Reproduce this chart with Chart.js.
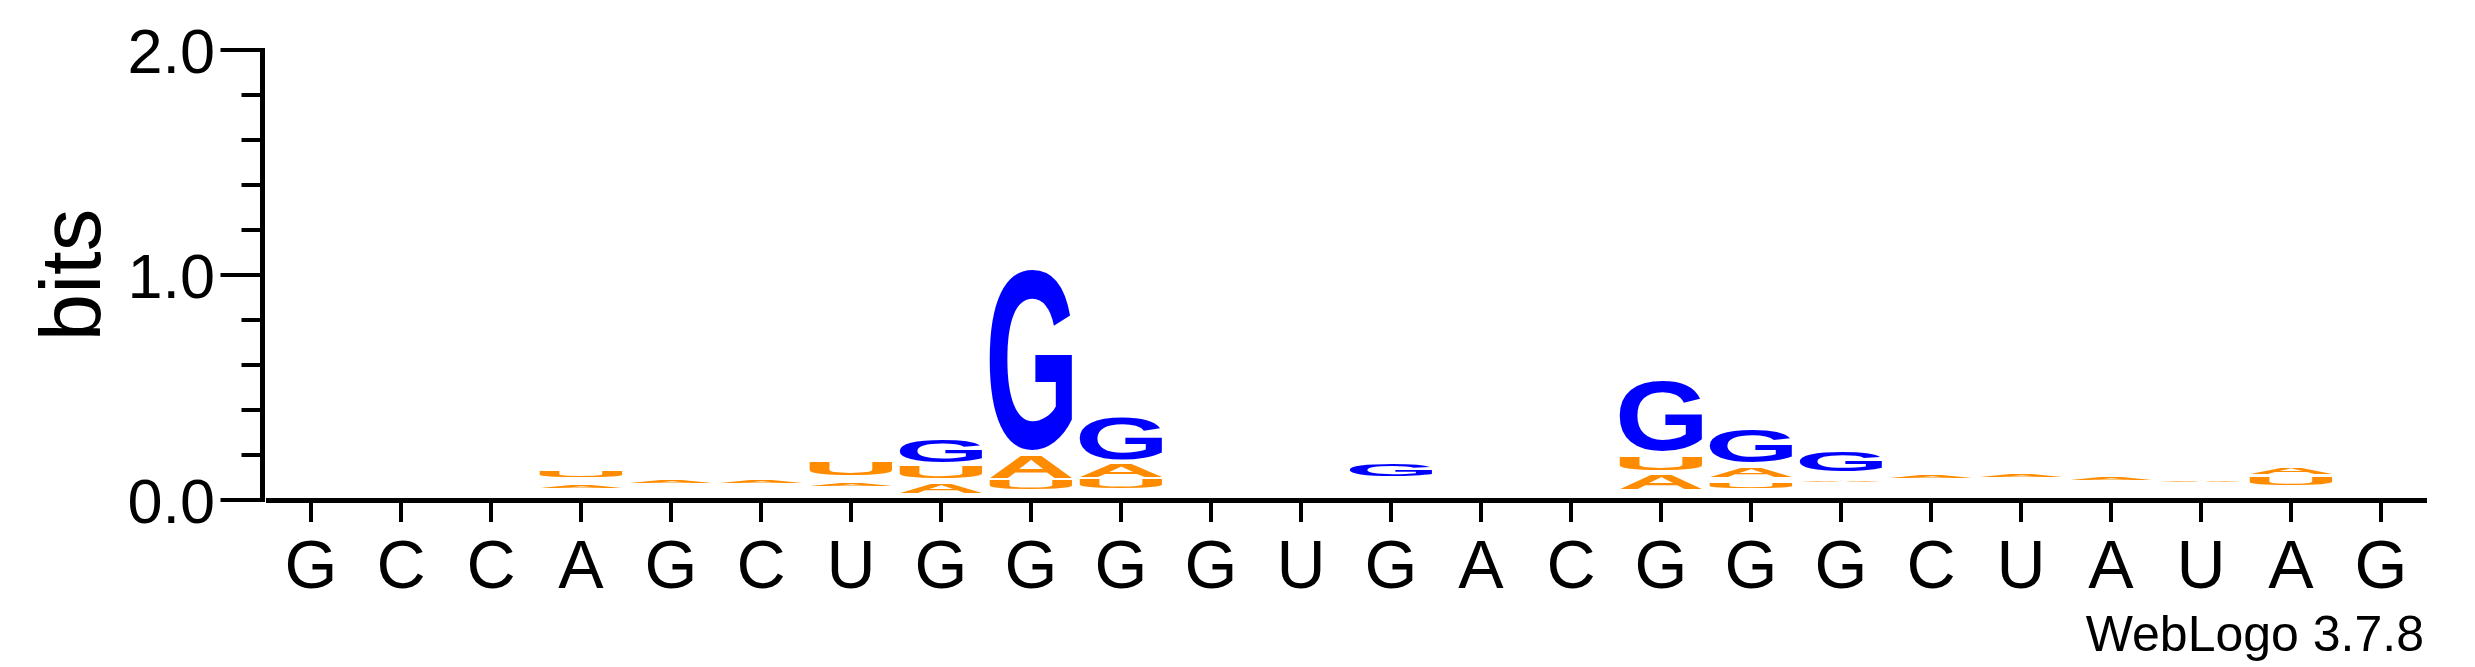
<!DOCTYPE html>
<html lang="en">
<head>
<meta charset="UTF-8">
<title>WebLogo</title>
<script src="https://cdn.jsdelivr.net/npm/chart.js@4"></script>
<style>
  body { margin: 0; background: #fff; }
</style>
</head>
<body>
<canvas id="logo" width="2475" height="667"></canvas>
<script>
// sequence written under the columns
const positions = ['G','C','C','A','G','C','U','G','G','G','G','U','G','A','C','G','G','G','C','U','A','U','A','G'];
const yTicks = [0, 1, 2];
const minorStep = 0.2;

// each letter: [bottom, top] in bits per column, null where nothing is drawn
const letterA = [null, null, null, [0.055, 0.064], [0.074, 0.084], [0.076, 0.086], [0.060, 0.072], [0.032, 0.074],
  [0.096, 0.193], [0.101, 0.156], null, null, null, null, null, [0.047, 0.111], [0.101, 0.141], [0.082, 0.090],
  [0.096, 0.106], [0.102, 0.112], [0.088, 0.097], [0.080, 0.086], [0.114, 0.144], null];
const letterU = [null, null, null, [0.104, 0.133], null, null, [0.111, 0.166], [0.096, 0.148],
  [0.047, 0.089], [0.052, 0.092], null, null, null, null, null, [0.133, 0.190], [0.052, 0.077], null,
  null, null, null, null, [0.064, 0.096], null];
const letterG = [null, null, null, null, null, null, null, [0.167, 0.267],
  [0.222, 1.022], [0.178, 0.363], null, null, [0.107, 0.160], null, null, [0.219, 0.530], [0.166, 0.311], [0.129, 0.219],
  null, null, null, null, null, null];

const colours = { A: '#ff8c00', U: '#ff8c00', G: '#0000ff', C: '#0000ff' };
const FONT = '"Liberation Sans", Arial, Helvetica, sans-serif';

// stretch each letter so its ink fills the bar rectangle
const glyphPlugin = {
  id: 'glyphs',
  afterDatasetsDraw(chart) {
    const ctx = chart.ctx;
    ctx.save();
    ctx.font = 'bold 200px ' + FONT;
    ctx.textAlign = 'left';
    ctx.textBaseline = 'alphabetic';
    chart.data.datasets.forEach((ds, i) => {
      const m = ctx.measureText(ds.label);
      const inkW = m.actualBoundingBoxLeft + m.actualBoundingBoxRight;
      const inkH = m.actualBoundingBoxAscent + m.actualBoundingBoxDescent;
      chart.getDatasetMeta(i).data.forEach((bar, j) => {
        if (!ds.data[j]) return;
        const { x, y, base, width } = bar.getProps(['x', 'y', 'base', 'width'], true);
        const top = Math.min(y, base);
        const h = Math.abs(base - y);
        ctx.save();
        ctx.translate(x - width / 2, top);
        ctx.scale(width / inkW, h / inkH);
        ctx.fillStyle = colours[ds.label];
        ctx.fillText(ds.label, m.actualBoundingBoxLeft, m.actualBoundingBoxAscent);
        ctx.restore();
      });
    });
    ctx.restore();
  }
};

function line(ctx, x1, y1, x2, y2) {
  ctx.beginPath();
  ctx.moveTo(x1, y1);
  ctx.lineTo(x2, y2);
  ctx.stroke();
}

// weblogo style axes drawn from the chart scales
const axesPlugin = {
  id: 'logoAxes',
  afterDraw(chart) {
    const { ctx, chartArea: area, scales: { x, y } } = chart;
    const y0 = y.getPixelForValue(0);
    ctx.save();
    ctx.strokeStyle = '#000';
    ctx.fillStyle = '#000';

    const axisX = area.left - 3.5;
    ctx.lineWidth = 5;
    line(ctx, axisX, y.getPixelForValue(yTicks[yTicks.length - 1]) - 2, axisX, y0 + 2);
    line(ctx, area.left, y0 + 0.5, area.right + 1, y0 + 0.5);

    ctx.lineWidth = 4;
    for (let v = 0; v <= yTicks[yTicks.length - 1] + 1e-9; v += minorStep) {
      const py = y.getPixelForValue(v);
      const major = yTicks.some(t => Math.abs(t - v) < 1e-6);
      line(ctx, axisX - (major ? 42 : 21), py, axisX, py);
    }

    ctx.font = '63px ' + FONT;
    ctx.textAlign = 'right';
    ctx.textBaseline = 'alphabetic';
    yTicks.forEach(t => {
      ctx.fillText(t.toFixed(1), 215, y.getPixelForValue(t) + 23);
    });

    positions.forEach((p, j) => {
      const px = x.getPixelForValue(j);
      line(ctx, px, y0 + 3, px, y0 + 22);
    });
    ctx.font = '68px ' + FONT;
    ctx.textAlign = 'center';
    positions.forEach((p, j) => {
      ctx.fillText(p, x.getPixelForValue(j), 588);
    });

    ctx.save();
    ctx.font = '85px ' + FONT;
    ctx.translate(100, (y.getPixelForValue(0) + y.getPixelForValue(2)) / 2);
    ctx.rotate(-Math.PI / 2);
    ctx.textAlign = 'center';
    ctx.fillText('bits', 0, 0);
    ctx.restore();

    ctx.font = '50px ' + FONT;
    ctx.textAlign = 'right';
    ctx.fillText('WebLogo 3.7.8', 2424, 651);
    ctx.restore();
  }
};

const barStyle = {
  backgroundColor: 'rgba(0,0,0,0)',
  borderWidth: 0,
  grouped: false,
  categoryPercentage: 1,
  barPercentage: 0.92
};

new Chart(document.getElementById('logo'), {
  type: 'bar',
  data: {
    labels: positions,
    datasets: [
      { label: 'A', data: letterA, ...barStyle },
      { label: 'U', data: letterU, ...barStyle },
      { label: 'G', data: letterG, ...barStyle }
    ]
  },
  options: {
    responsive: false,
    animation: false,
    events: [],
    layout: { padding: { left: 266, right: 49, top: 50, bottom: 167 } },
    plugins: { legend: { display: false }, tooltip: { enabled: false } },
    scales: {
      x: { display: false },
      y: { display: false, min: 0, max: 2 }
    }
  },
  plugins: [glyphPlugin, axesPlugin]
});
</script>
</body>
</html>
